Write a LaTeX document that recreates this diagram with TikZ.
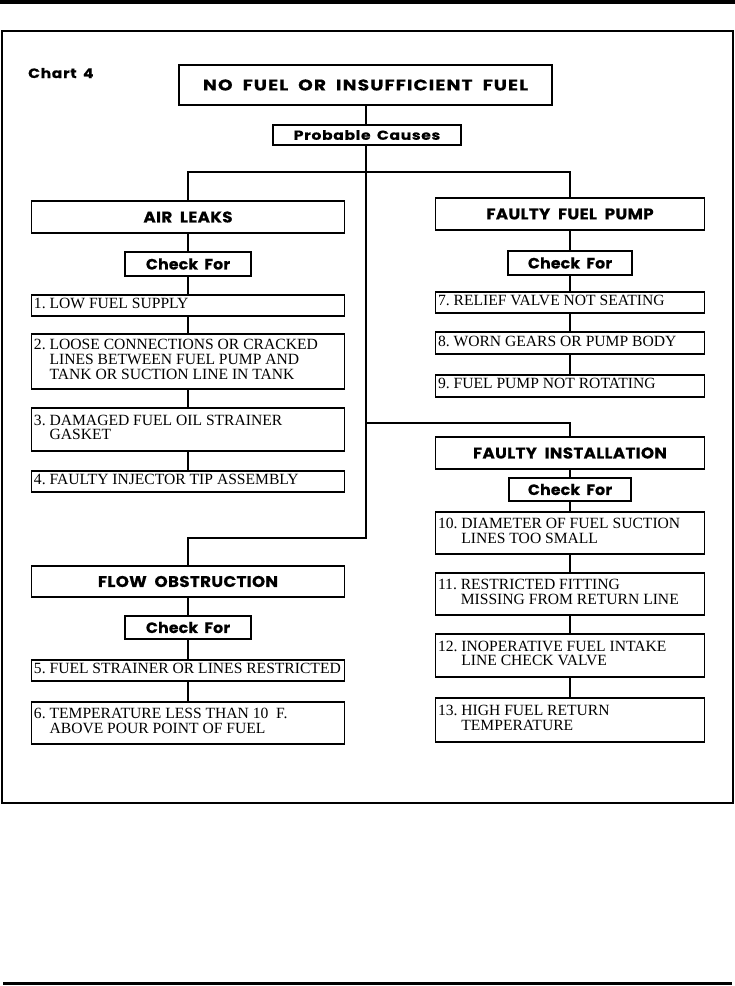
\documentclass[tikz,border=0pt]{standalone}
\usepackage{fontspec}
\setmainfont{Liberation Serif}
\newfontfamily\hdfont[WordSpace=2,LetterSpace=2,FakeStretch=1.08,FakeBold=0.4]{Poppins}
\newfontfamily\ttlfont[WordSpace=2,LetterSpace=7,FakeStretch=1.2,FakeBold=0.4]{Poppins}
\newfontfamily\ckfont[WordSpace=1.8,LetterSpace=1,FakeStretch=1.05,FakeBold=0.4]{Poppins}
\newfontfamily\pcfont[WordSpace=1.6,LetterSpace=5,FakeStretch=1.2,FakeBold=0.3]{Poppins}
\newfontfamily\chfont[WordSpace=1.6,LetterSpace=5,FakeStretch=1.15,FakeBold=0.3]{Poppins}
\newcommand\bx[7]{\node[#2, minimum width=#5pt, minimum height=#6pt] (#1) at (#3,#4) {#7};}
\newcommand\ib[6]{\node[it, minimum width=#4pt, minimum height=#5pt] (#1) at (#2,#3) {\makebox[\dimexpr #4pt-5pt\relax][l]{\raisebox{-2pt}{#6}}};}
\newcommand\tb[1]{\begin{tabular}{@{}l@{\ }l@{}}#1\end{tabular}}
\begin{document}
\begin{tikzpicture}[x=1pt,y=-1pt,
  bx/.style={draw, line width=1.3pt, inner sep=0pt, outer sep=0pt},
  hd/.style={bx, font=\hdfont\bfseries\fontsize{15.5}{16}\selectfont},
  ttl/.style={bx, font=\ttlfont\bfseries\fontsize{15.5}{16}\selectfont},
  ck/.style={bx, font=\ckfont\bfseries\fontsize{15}{16}\selectfont},
  pc/.style={bx, font=\pcfont\bfseries\fontsize{13}{14}\selectfont},
  it/.style={bx, font=\fontsize{15.6}{14.5}\selectfont, align=left},
  ln/.style={line width=2pt}]
\useasboundingbox (0,0) rectangle (735,986);
% page rules and frame
\draw[line width=3.5pt] (0,2) -- (735,2);
\draw[line width=3pt] (3,983) -- (732,983);
\draw[line width=2.5pt] (2,31) rectangle (733,803);
\node[anchor=base west, inner sep=0pt, font=\chfont\bfseries\fontsize{13.5}{14}\selectfont] (chart) at (28,78) {Chart 4};
% top
\bx{title}{ttl}{365.5}{85}{373}{40}{NO FUEL OR INSUFFICIENT FUEL}
\bx{pc}{pc}{367}{135}{188}{20}{Probable Causes}
\coordinate (tk) at (366,0);
\coordinate (j1) at (366,172);
\coordinate (j2) at (366,423);
\coordinate (j3) at (366,538);
% left column
\bx{air}{hd}{188}{217}{313}{32}{AIR LEAKS}
\bx{ck1}{ck}{188}{264}{126}{24}{Check For}
\ib{i1}{188}{305.5}{313}{21}{\tb{1. & LOW FUEL SUPPLY}}
\ib{i2}{188}{361.5}{313}{55}{\tb{2. & LOOSE CONNECTIONS OR CRACKED\\ & LINES BETWEEN FUEL PUMP AND\\ & TANK OR SUCTION LINE IN TANK}}
\ib{i3}{188}{429.5}{313}{43}{\tb{3. & DAMAGED FUEL OIL STRAINER\\ & GASKET}}
\ib{i4}{188}{481.5}{313}{21}{\tb{4. & FAULTY INJECTOR TIP ASSEMBLY}}
\bx{flow}{hd}{188}{581.5}{313}{31}{FLOW OBSTRUCTION}
\bx{ck3}{ck}{188}{627.5}{126}{23}{Check For}
\ib{i5}{188}{670.5}{313}{21}{\tb{5. & FUEL STRAINER OR LINES RESTRICTED}}
\ib{i6}{188}{723}{313}{42}{\tb{6. & TEMPERATURE LESS THAN 10\enspace F.\\ & ABOVE POUR POINT OF FUEL}}
% right column
\bx{pump}{hd}{570}{214}{269}{32}{FAULTY FUEL PUMP}
\bx{ck2}{ck}{570}{263}{124}{24}{Check For}
\ib{i7}{570}{302.5}{269}{21}{\tb{7. & RELIEF VALVE NOT SEATING}}
\ib{i8}{570}{343}{269}{22}{\tb{8. & WORN GEARS OR PUMP BODY}}
\ib{i9}{570}{386}{269}{22}{\tb{9. & FUEL PUMP NOT ROTATING}}
\bx{inst}{hd}{570}{453}{269}{32}{FAULTY INSTALLATION}
\bx{ck4}{ck}{570}{489.5}{122}{23}{Check For}
\ib{i10}{570}{533}{269}{42}{\tb{10. & DIAMETER OF FUEL SUCTION\\ & LINES TOO SMALL}}
\ib{i11}{570}{594}{269}{42}{\tb{11. & RESTRICTED FITTING\\ & MISSING FROM RETURN LINE}}
\ib{i12}{570}{655.5}{269}{43}{\tb{12. & INOPERATIVE FUEL INTAKE\\ & LINE CHECK VALVE}}
\ib{i13}{570}{720}{269}{44}{\tb{13. & HIGH FUEL RETURN\\ & TEMPERATURE}}
% connectors
\draw[ln] (title.south -| tk) -- (pc.north -| tk);
\draw[ln] (pc.south -| tk) -- (j3) -| (flow.north);
\draw[ln] (air.north) |- (j1) -| (pump.north);
\draw[ln] (j2) -| (inst.north);
\foreach \a/\b in {air/ck1, ck1/i1, i1/i2, i2/i3, i3/i4, flow/ck3, ck3/i5, i5/i6,
  pump/ck2, ck2/i7, i7/i8, i8/i9, inst/ck4, ck4/i10, i10/i11, i11/i12, i12/i13}
  \draw[ln] (\a.south) -- (\b.north);
\end{tikzpicture}
\end{document}
